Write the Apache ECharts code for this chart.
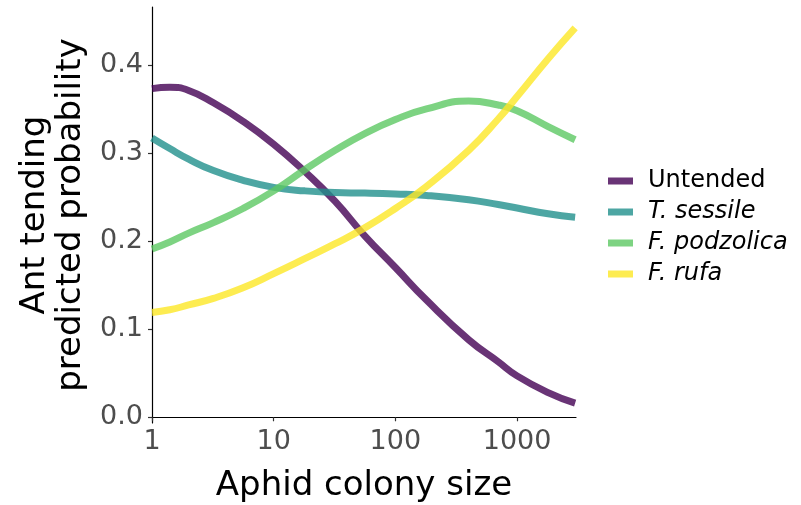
<!DOCTYPE html>
<html>
<head>
<meta charset="utf-8">
<script src="https://cdn.jsdelivr.net/npm/echarts@6/dist/echarts.min.js"></script>
<style>
  html, body { margin: 0; padding: 0; background: #fff; }
  #chart { width: 801px; height: 505px; }
</style>
</head>
<body>
<div id="chart"></div>
<script>
// aphid colony size (log scale)
const colonySize = [1, 1.4, 2, 3.2, 5.6, 10, 18, 32, 56, 100, 180, 400, 700, 1000, 1800, 3000]
const untended   = [0.373, 0.3746, 0.371, 0.357, 0.336, 0.310, 0.279, 0.245, 0.206, 0.170, 0.133, 0.088, 0.063, 0.047, 0.028, 0.016]
const tSessile   = [0.317, 0.305, 0.293, 0.280, 0.269, 0.261, 0.257, 0.255, 0.2545, 0.2535, 0.2518, 0.247, 0.2415, 0.2375, 0.231, 0.227]
const fPodzolica = [0.191, 0.199, 0.209, 0.221, 0.237, 0.257, 0.281, 0.303, 0.322, 0.338, 0.350, 0.359, 0.3545, 0.348, 0.330, 0.315]
const fRufa      = [0.119, 0.122, 0.1275, 0.135, 0.147, 0.163, 0.180, 0.197, 0.215, 0.237, 0.262, 0.303, 0.3386, 0.364, 0.407, 0.442]
const yTicks = [0, 0.1, 0.2, 0.3, 0.4]

const seriesNames = ['Untended', 'T. sessile', 'F. podzolica', 'F. rufa']
const seriesData = [untended, tSessile, fPodzolica, fRufa]
const seriesColors = ['rgba(68,1,84,0.8)', 'rgba(33,144,140,0.8)', 'rgba(93,200,99,0.8)', 'rgba(253,231,37,0.8)']

const font = 'DejaVu Sans'

const myChart = echarts.init(document.getElementById('chart'))
const option = {
  backgroundColor: '#fff',
  animation: false,
  grid: {
    left: 152,
    right: 225,
    top: 7,
    bottom: 82,
    containLabel: false,
    outerBoundsMode: 'none'
  },
  legend: {
    orient: 'vertical',
    left: 603,
    top: 164,
    itemWidth: 25,
    itemHeight: 7,
    itemGap: 7,
    icon: 'rect',
    data: seriesNames,
    formatter: name => name === 'Untended' ? name : '{i|' + name + '}',
    textStyle: {
      fontFamily: font,
      fontSize: 24,
      color: '#000',
      padding: [0, 0, 0, 10],
      rich: {
        i: { fontFamily: font, fontSize: 24, fontStyle: 'italic', color: '#000' }
      }
    }
  },
  xAxis: {
    type: 'log',
    logBase: 10,
    min: 1,
    max: 3050,
    name: 'Aphid colony size',
    nameLocation: 'middle',
    nameGap: 46,
    nameTextStyle: { fontFamily: font, fontSize: 34, color: '#000' },
    axisLine: { show: true, lineStyle: { color: '#000', width: 1.2 } },
    axisTick: { show: true, length: 4, lineStyle: { color: '#333', width: 1.2 } },
    splitLine: { show: false },
    axisLabel: {
      margin: 5,
      fontFamily: font,
      fontSize: 27,
      color: '#4D4D4D',
      formatter: v => String(Math.round(v))
    }
  },
  yAxis: {
    type: 'value',
    min: -0.0065,
    max: 0.4657,
    name: 'Ant tending\npredicted probability',
    nameLocation: 'middle',
    nameRotate: 90,
    nameGap: 59,
    nameTextStyle: { fontFamily: font, fontSize: 34, color: '#000', lineHeight: 36 },
    axisLine: { show: true, lineStyle: { color: '#000', width: 1.2 } },
    axisTick: { show: true, length: 4, customValues: yTicks, lineStyle: { color: '#333', width: 1.2 } },
    splitLine: { show: false },
    axisLabel: {
      margin: 9,
      fontFamily: font,
      fontSize: 27,
      color: '#4D4D4D',
      customValues: yTicks,
      formatter: v => v.toFixed(1)
    }
  },
  series: seriesNames.map((name, i) => ({
    name: name,
    type: 'line',
    smooth: 0.5,
    symbol: 'none',
    color: seriesColors[i],
    lineStyle: { width: 7, color: seriesColors[i], cap: 'butt' },
    data: colonySize.map((x, j) => [x, seriesData[i][j]])
  }))
}
myChart.setOption(option)
</script>
</body>
</html>
